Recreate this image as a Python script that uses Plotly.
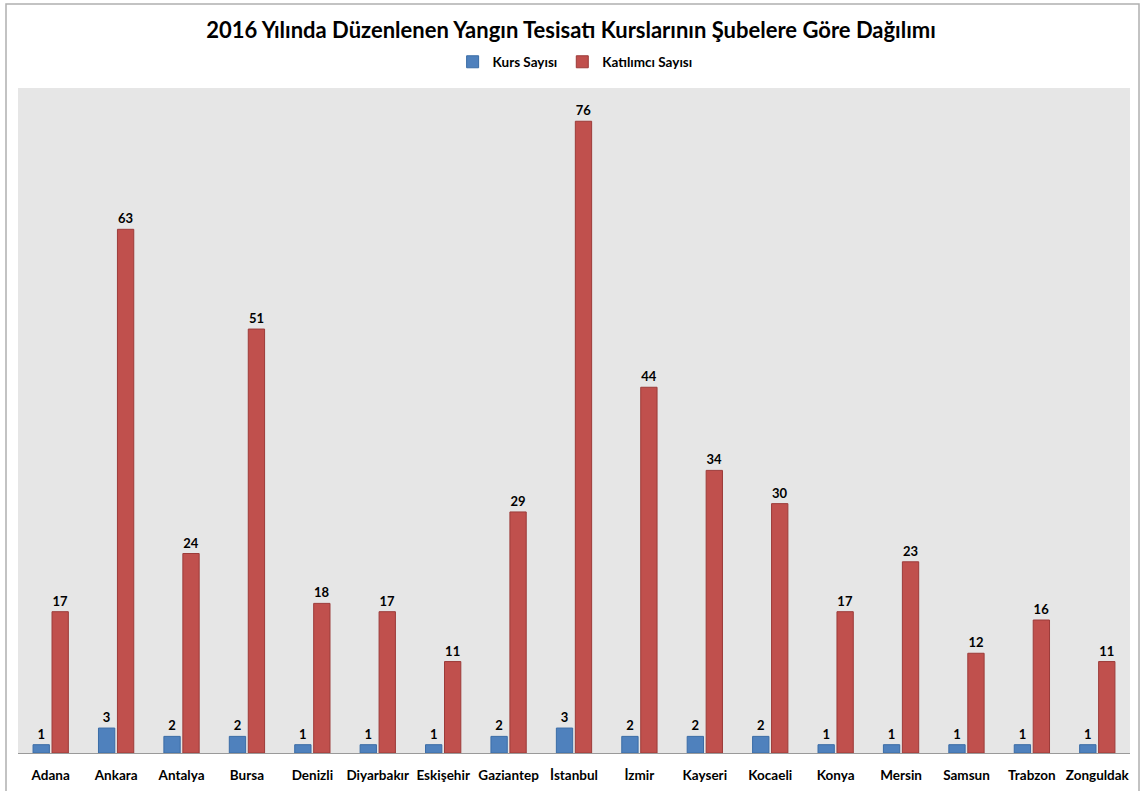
import plotly.graph_objects as go

categories = ["Adana", "Ankara", "Antalya", "Bursa", "Denizli", "Diyarbakır", "Eskişehir",
              "Gaziantep", "İstanbul", "İzmir", "Kayseri", "Kocaeli", "Konya", "Mersin",
              "Samsun", "Trabzon", "Zonguldak"]
kurs_sayisi = [1, 3, 2, 2, 1, 1, 1, 2, 3, 2, 2, 2, 1, 1, 1, 1, 1]
katilimci_sayisi = [17, 63, 24, 51, 18, 17, 11, 29, 76, 44, 34, 30, 17, 23, 12, 16, 11]

FONT = "Lato"

fig = go.Figure()
fig.add_trace(go.Bar(
    x=categories, y=kurs_sayisi, name="Kurs Sayısı",
    marker=dict(color="#4f81bd", line=dict(color="#3a6ca6", width=1)),
    text=kurs_sayisi, textposition="outside", cliponaxis=False, constraintext="none",
    textfont=dict(family=FONT, size=13, color="#000000", weight="bold"),
))
fig.add_trace(go.Bar(
    x=categories, y=katilimci_sayisi, name="Katılımcı Sayısı",
    marker=dict(color="#c0504d", line=dict(color="#9c3b39", width=1)),
    text=katilimci_sayisi, textposition="outside", cliponaxis=False, constraintext="none",
    textfont=dict(family=FONT, size=13, color="#000000", weight="bold"),
))

fig.update_layout(
    width=1142, height=791,
    margin=dict(l=18, r=12, t=88, b=38),
    paper_bgcolor="#ffffff", plot_bgcolor="#e6e6e6",
    barmode="group", bargap=0.42, bargroupgap=0.14,
    font=dict(family=FONT, color="#000000"),
    title=dict(text="<b>2016 Yılında Düzenlenen Yangın Tesisatı Kurslarının Şubelere Göre Dağılımı</b>",
               x=0.5, xanchor="center", y=1 - 30 / 791, yanchor="middle",
               font=dict(family=FONT, size=22, color="#000000")),
    legend=dict(orientation="h", x=0.501, xanchor="center", y=1 + 26 / 665, yanchor="middle",
                font=dict(family=FONT, size=13.5, color="#000000", weight="bold"),
                itemwidth=30, traceorder="normal", bgcolor="rgba(0,0,0,0)"),
    showlegend=True,
    xaxis=dict(showline=True, linecolor="#9a9a9a", linewidth=1, ticks="outside", ticklen=10,
               tickcolor="rgba(0,0,0,0)", showgrid=False, automargin=False,
               tickfont=dict(family=FONT, size=13.5, color="#000000", weight="bold")),
    yaxis=dict(range=[0, 80], visible=False, showgrid=False, automargin=False),
    shapes=[dict(type="rect", xref="paper", yref="paper",
                 x0=-12 / 1112, x1=1 + 9 / 1112, y0=-60 / 665, y1=1 + 84 / 665,
                 line=dict(color="#b0b0b0", width=1.5), fillcolor="rgba(0,0,0,0)", layer="below")],
)

fig.write_html("out.html", config={"displayModeBar": False},
               post_script="document.body.style.margin='0';")
